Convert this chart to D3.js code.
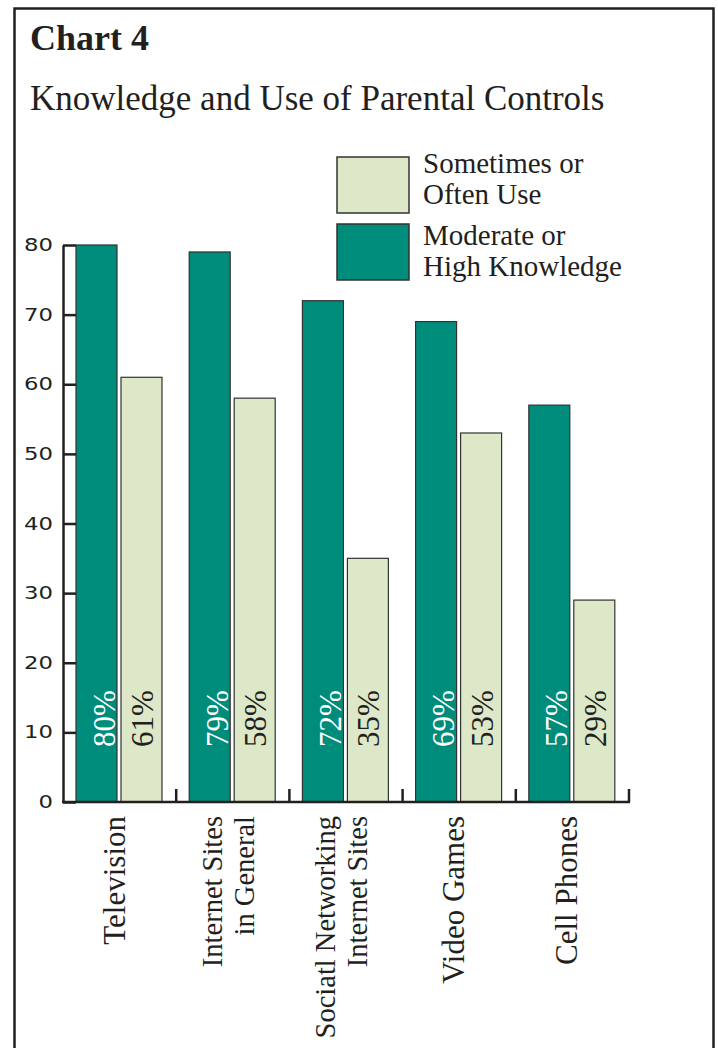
<!DOCTYPE html>
<html>
<head>
<meta charset="utf-8">
<script src="https://cdn.jsdelivr.net/npm/d3@7"></script>
<style>
  html, body { margin: 0; padding: 0; background: #fff; }
  svg { display: block; }
</style>
</head>
<body>
<svg id="chart" width="718" height="1048"></svg>
<script>
// ---- data ----
const categories = ["Television", "Internet Sites in General", "Sociatl Networking Internet Sites", "Video Games", "Cell Phones"];
const categoryLines = [["Television"], ["Internet Sites", "in General"], ["Sociatl Networking", "Internet Sites"], ["Video Games"], ["Cell Phones"]];
const knowledge = [80, 79, 72, 69, 57];
const use = [61, 58, 35, 53, 29];
const yTicks = [0, 10, 20, 30, 40, 50, 60, 70, 80];
const seriesKeys = ["knowledge", "use"];
const legendLabels = [["Sometimes or", "Often Use"], ["Moderate or", "High Knowledge"]];
const legendKeys = ["use", "knowledge"];
const titleText = "Chart 4";
const subtitleText = "Knowledge and Use of Parental Controls";

// ---- styles ----
const colors = { knowledge: "#008c7a", use: "#dce8c7" };
const ink = "#231f20";
const serif = "'Liberation Serif', 'Times New Roman', serif";
const sans = "'DejaVu Sans', Verdana, sans-serif";

const svg = d3.select("#chart");

// frame
svg.append("rect")
  .attr("x", 14.5).attr("y", 8.5).attr("width", 699).attr("height", 1100)
  .attr("fill", "none").attr("stroke", ink).attr("stroke-width", 2.5);

// titles
svg.append("text").attr("x", 30).attr("y", 50)
  .attr("font-family", serif).attr("font-weight", "bold").attr("font-size", 36)
  .attr("fill", ink).text(titleText);
svg.append("text").attr("x", 30).attr("y", 110)
  .attr("font-family", serif).attr("font-size", 35)
  .attr("fill", ink).text(subtitleText);

// scales
const x0 = d3.scaleBand().domain(categories).range([63, 629]).paddingInner(0).paddingOuter(0);
const x1 = d3.scaleBand().domain(seriesKeys).range([13, 99]).paddingInner(4 / 45).paddingOuter(0);
const y = d3.scaleLinear().domain([0, 80]).range([802, 245]);

const rows = categories.map((c, i) => ({ cat: c, lines: categoryLines[i], knowledge: knowledge[i], use: use[i] }));

// bars
const groups = svg.append("g").selectAll("g").data(rows).join("g")
  .attr("transform", d => `translate(${x0(d.cat)},0)`);

groups.selectAll("rect").data(d => seriesKeys.map(k => ({ key: k, value: d[k] })))
  .join("rect")
  .attr("x", d => x1(d.key))
  .attr("y", d => y(d.value))
  .attr("width", x1.bandwidth())
  .attr("height", d => y(0) - y(d.value))
  .attr("fill", d => colors[d.key])
  .attr("stroke", "#333").attr("stroke-width", 1.2);

// value labels (rotated)
const labelFs = 31;
groups.selectAll("text.val").data(d => seriesKeys.map(k => ({ key: k, value: d[k] })))
  .join("text").attr("class", "val")
  .attr("transform", d => {
    const bx = d.key === "knowledge"
      ? x1(d.key) + x1.bandwidth() - 2.5
      : x1(d.key) + x1.bandwidth() / 2 + 11.5;
    return `translate(${bx},${y(0) - 55}) rotate(-90)`;
  })
  .attr("font-family", serif).attr("font-size", labelFs)
  .attr("fill", d => d.key === "knowledge" ? "#ffffff" : ink)
  .text(d => d.value + "%");

// y axis
const yAxis = svg.append("g").attr("transform", "translate(63,0)")
  .call(d3.axisLeft(y).tickValues(yTicks).tickSize(-13).tickSizeOuter(0).tickPadding(10));
yAxis.select(".domain").attr("stroke", ink).attr("stroke-width", 2.5);
yAxis.selectAll(".tick line").attr("stroke", ink).attr("stroke-width", 2.5);
yAxis.selectAll(".tick text")
  .attr("font-family", sans).attr("font-size", 17.5).attr("fill", ink)
  .attr("x", -10 / 1.3)
  .attr("transform", "scale(1.3,1)");

// x axis baseline + separators
svg.append("line")
  .attr("x1", x0.range()[0] - 1).attr("x2", x0.range()[1] + 1)
  .attr("y1", y(0)).attr("y2", y(0))
  .attr("stroke", ink).attr("stroke-width", 2.5);
svg.append("g").selectAll("line").data(categories).join("line")
  .attr("x1", d => x0(d) + x0.bandwidth()).attr("x2", d => x0(d) + x0.bandwidth())
  .attr("y1", y(0)).attr("y2", y(0) - 13)
  .attr("stroke", ink).attr("stroke-width", 2.5);

// category labels (rotated)
const lineH = 32;
const catG = svg.append("g").selectAll("g").data(rows).join("g");
catG.each(function (d) {
  const n = d.lines.length;
  const cx = x0(d.cat) + x0.bandwidth() / 2;
  d3.select(this).selectAll("text").data(d.lines).join("text")
    .attr("transform", (t, i) => `translate(${cx + 5 + (i - (n - 1) / 2) * lineH},${y(0) + 14}) rotate(-90)`)
    .attr("text-anchor", "end")
    .attr("font-family", serif)
    .attr("font-size", n > 1 ? 28.5 : 31)
    .attr("fill", ink)
    .text(t => t);
});

// legend
const legend = svg.append("g").selectAll("g").data(legendKeys).join("g");
legend.append("rect")
  .attr("x", 337).attr("y", (d, i) => 157 + i * 67)
  .attr("width", 72).attr("height", 56)
  .attr("fill", d => colors[d]).attr("stroke", "#333").attr("stroke-width", 1.5);
legend.each(function (d, i) {
  d3.select(this).selectAll("text").data(legendLabels[i]).join("text")
    .attr("x", 423).attr("y", (t, j) => 173 + i * 72 + j * 31)
    .attr("font-family", serif).attr("font-size", 29).attr("fill", ink)
    .text(t => t);
});
</script>
</body>
</html>
